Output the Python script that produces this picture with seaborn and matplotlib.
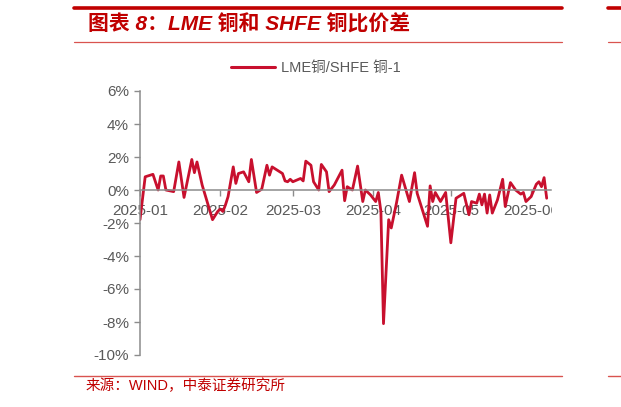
import matplotlib
matplotlib.use("Agg")
import matplotlib.pyplot as plt
import matplotlib.ticker as mticker
from matplotlib.transforms import Bbox, TransformedBbox
from matplotlib.lines import Line2D
import pandas as pd
import seaborn as sns

# LME copper / SHFE copper - 1, in percent
dates = [
    "2025-01-01", "2025-01-03", "2025-01-06", "2025-01-08", "2025-01-09", "2025-01-10",
    "2025-01-11", "2025-01-14", "2025-01-16", "2025-01-18", "2025-01-21", "2025-01-22",
    "2025-01-23", "2025-01-25", "2025-01-29", "2025-01-31", "2025-02-01", "2025-02-02",
    "2025-02-03", "2025-02-04", "2025-02-06", "2025-02-07", "2025-02-08", "2025-02-10",
    "2025-02-12", "2025-02-13", "2025-02-15", "2025-02-17", "2025-02-19", "2025-02-20",
    "2025-02-21", "2025-02-25", "2025-02-26", "2025-02-27", "2025-02-28", "2025-03-01",
    "2025-03-04", "2025-03-05", "2025-03-06", "2025-03-08", "2025-03-09", "2025-03-11",
    "2025-03-12", "2025-03-14", "2025-03-15", "2025-03-17", "2025-03-20", "2025-03-21",
    "2025-03-22", "2025-03-24", "2025-03-26", "2025-03-28", "2025-03-29", "2025-03-31",
    "2025-04-02", "2025-04-03", "2025-04-04", "2025-04-05", "2025-04-07", "2025-04-08",
    "2025-04-10", "2025-04-12", "2025-04-15", "2025-04-17", "2025-04-18", "2025-04-22",
    "2025-04-23", "2025-04-24", "2025-04-25", "2025-04-27", "2025-04-29", "2025-05-01",
    "2025-05-03", "2025-05-04", "2025-05-06", "2025-05-08", "2025-05-09", "2025-05-11",
    "2025-05-12", "2025-05-13", "2025-05-14", "2025-05-15", "2025-05-16", "2025-05-17",
    "2025-05-19", "2025-05-21", "2025-05-22", "2025-05-24", "2025-05-26", "2025-05-28",
    "2025-05-29", "2025-05-30", "2025-06-01", "2025-06-03", "2025-06-04", "2025-06-05",
    "2025-06-06", "2025-06-07",
]
spread = [
    -1.8, 0.8, 0.95, 0.0, 0.85, 0.85,
    0.0, -0.1, 1.7, -0.45, 1.85, 1.05,
    1.7, 0.3, -1.8, -1.3, -1.15, -1.3,
    -0.9, -0.4, 1.4, 0.4, 1.0, 1.1,
    0.5, 1.85, -0.15, 0.05, 1.5, 0.9,
    1.4, 1.0, 0.55, 0.5, 0.65, 0.5,
    0.7, 0.55, 1.75, 1.5, 0.5, 0.0,
    1.55, 1.1, -0.1, 0.3, 1.2, -0.65,
    0.2, 0.0, 1.45, -0.7, 0.0, -0.3,
    -0.7, -0.15, -1.3, -8.1, -1.8, -2.3,
    -0.8, 0.9, -0.7, 1.05, -0.2, -2.2,
    0.25, -0.7, -0.15, -0.7, -0.15, -3.2,
    -0.5, -0.4, -0.2, -1.5, -0.7, -0.8,
    -0.25, -0.9, -0.25, -1.4, -0.3, -1.4,
    -0.6, 0.65, -1.0, 0.45, 0.0, -0.25,
    -0.15, -0.7, -0.4, 0.35, 0.5, 0.2,
    0.75, -0.5,
]
month_ticks = ["2025-01-01", "2025-02-01", "2025-03-01", "2025-04-01", "2025-05-01", "2025-06-01"]
month_labels = ["2025-01", "2025-02", "2025-03", "2025-04", "2025-05", "2025-06"]
y_ticks = [6, 4, 2, 0, -2, -4, -6, -8, -10]

title = "图表 8：LME 铜和 SHFE 铜比价差"
source = "来源：WIND，中泰证券研究所"
series_name = "LME铜/SHFE 铜-1"

RED = "#C8102E"
DARK_RED = "#C00000"
GRAY = "#595959"
AXIS_GRAY = "#8C8C8C"

sns.set_theme(style="ticks")
plt.rcParams["font.family"] = ["Liberation Sans", "Noto Sans CJK SC"]
plt.rcParams["axes.unicode_minus"] = False

df = pd.DataFrame({"date": pd.to_datetime(dates), "spread": spread})

fig = plt.figure(figsize=(6.21, 4.07), dpi=100, facecolor="white")
W, H = 621, 407
ax = fig.add_axes([140 / W, 1 - 355 / H, (551 - 140) / W, (355 - 91) / H])

sns.lineplot(data=df, x="date", y="spread", ax=ax, color=RED, linewidth=2.0, legend=False)

ax.set_xlim(pd.Timestamp("2025-01-01"), pd.Timestamp("2025-06-08 16:00"))
ax.set_ylim(-10, 6)
ax.set_xlabel("")
ax.set_ylabel("")

ax.set_yticks(y_ticks)
ax.yaxis.set_major_formatter(mticker.FuncFormatter(lambda v, p: f"{v:.0f}%"))
ax.set_xticks(pd.to_datetime(month_ticks))
ax.set_xticklabels(month_labels)

for side in ["top", "right"]:
    ax.spines[side].set_visible(False)
ax.spines["bottom"].set_position(("data", 0))
for side in ["left", "bottom"]:
    ax.spines[side].set_color(AXIS_GRAY)
    ax.spines[side].set_linewidth(1.1)

ax.tick_params(axis="both", direction="out", length=4, width=1.0, color=AXIS_GRAY,
               labelcolor=GRAY, labelsize=11)
ax.tick_params(axis="y", pad=4)
ax.tick_params(axis="x", pad=6)

# the reference cuts the last date label at the edge of the plot
clip = TransformedBbox(Bbox([[0, 0], [552 / W, 1]]), fig.transFigure)
for lbl in ax.get_xticklabels():
    lbl.set_clip_box(clip)
    lbl.set_clip_on(True)

handle = Line2D([], [], color=RED, linewidth=2.2)
fig.legend([handle], [series_name], loc="center", bbox_to_anchor=(316 / W, 1 - 68 / H),
           frameon=False, fontsize=10.5, labelcolor=GRAY, handlelength=3.0,
           handletextpad=0.4)

# report frame: header and footer rules
for x0, x1 in [(74, 562), (608, 621)]:
    fig.add_artist(Line2D([x0 / W, x1 / W], [1 - 7.5 / H] * 2, color=DARK_RED, linewidth=2.6))
    fig.add_artist(Line2D([x0 / W, x1 / W], [1 - 41.7 / H] * 2, color="#D9534F", linewidth=0.9))
    fig.add_artist(Line2D([x0 / W, x1 / W], [1 - 375.7 / H] * 2, color="#D9534F", linewidth=1.0))

fig.text(88 / W, 1 - 24 / H, title, color=DARK_RED, fontsize=15, fontweight="bold",
         fontstyle="italic", ha="left", va="center")
fig.text(86 / W, 1 - 386 / H, source, color=DARK_RED, fontsize=10.5, ha="left", va="center",
         family=["Liberation Sans", "Noto Sans CJK SC"])

fig.savefig("out.png", dpi=100, facecolor="white")
